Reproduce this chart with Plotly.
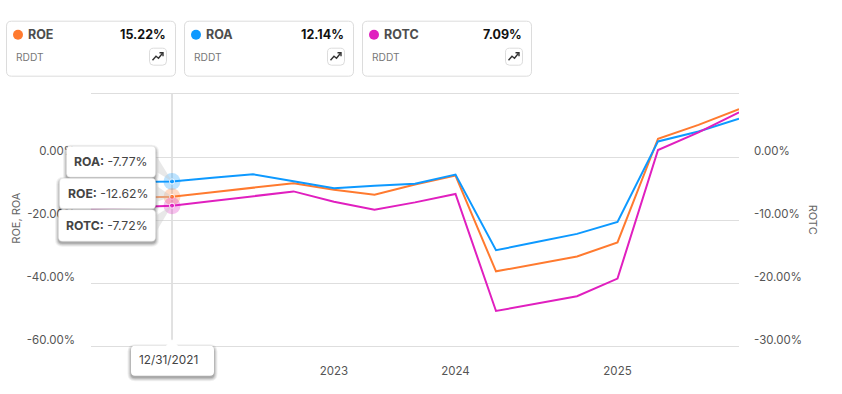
import plotly.graph_objects as go

# ---- data ----
quarters = ["6/30/2021", "9/30/2021", "12/31/2021", "3/31/2022", "6/30/2022", "9/30/2022",
            "12/31/2022", "3/31/2023", "9/30/2023", "12/31/2023", "3/31/2024", "6/30/2024",
            "9/30/2024", "12/31/2024", "3/31/2025", "6/30/2025", "9/30/2025"]
roe = [-13.2, -12.9, -12.62, -11.2, -9.7, -8.3, -10.4, -12.0, -8.7, -5.9,
       -36.3, -34.0, -31.6, -27.1, 5.8, 10.2, 15.22]
roa = [-8.1, -7.9, -7.77, -6.6, -5.5, -7.7, -9.9, -9.1, -8.5, -5.6,
       -29.6, -27.0, -24.4, -20.6, 4.95, 8.1, 12.14]
rotc = [-8.2, -8.0, -7.72, -7.0, -6.2, -5.46, -7.1, -8.37, -7.2, -5.87,
        -24.44, -23.3, -22.1, -19.3, 1.11, 3.9, 7.09]

x_tick_cats = ["12/31/2022", "12/31/2023", "12/31/2024"]
x_tick_text = ["2023", "2024", "2025"]
left_ticks = [-60, -40, -20, 0, 20]
left_text = ["-60.00%", "-40.00%", "-20.00%", "0.00%", ""]
right_ticks = [-30, -20, -10, 0, 10]
right_text = ["-30.00%", "-20.00%", "-10.00%", "0.00%", ""]
hover_date = "12/31/2021"
ticker = "RDDT"

C_ROE, C_ROA, C_ROTC = "#ff7a2f", "#0d99ff", "#e01fbf"
FONT = "Inter, 'Noto Sans', sans-serif"
W, H = 842, 394
L, R, T, B = 91, 739, 94.3, 346.3


def px(x):
    return (x - L) / (R - L)


def py(y):
    return (B - y) / (B - T)


def poly(pts, close=True):
    out = []
    for p in pts:
        vals = []
        for i, v in enumerate(p[1:]):
            vals.append(f"{px(v) if i % 2 == 0 else py(v):.5f}")
        out.append(p[0] + " " + " ".join(vals))
    return " ".join(out) + (" Z" if close else "")


def rr(x0, y0, x1, y1, r):
    """Rounded-rectangle path in paper coords from pixels."""
    pts = [("M", x0 + r, y0), ("L", x1 - r, y0), ("Q", x1, y0, x1, y0 + r), ("L", x1, y1 - r),
           ("Q", x1, y1, x1 - r, y1), ("L", x0 + r, y1), ("Q", x0, y1, x0, y1 - r),
           ("L", x0, y0 + r), ("Q", x0, y0, x0 + r, y0)]
    return poly(pts)


shapes, annos = [], []


def path(d, fill="rgba(0,0,0,0)", line=None, width=1, layer="above"):
    shapes.append(dict(type="path", xref="paper", yref="paper", path=d, fillcolor=fill,
                       line=dict(color=line or "rgba(0,0,0,0)", width=width if line else 0),
                       layer=layer))


def text(x, y, s, size, color, anchor="left", angle=0):
    annos.append(dict(xref="paper", yref="paper", x=px(x), y=py(y), text=s, showarrow=False,
                      xanchor=anchor, yanchor="middle", align=anchor, textangle=angle,
                      font=dict(family=FONT, size=size, color=color), borderpad=0))


# ---- metric cards ----
cards = [("ROE", roe, C_ROE, 6), ("ROA", roa, C_ROA, 184), ("ROTC", rotc, C_ROTC, 362)]
for name, vals, col, x0 in cards:
    x1 = x0 + 169
    path(rr(x0 + .5, 21.5, x1 + .5, 76.5, 5), fill="#fff", line="#dcdcdc", width=1)
    shapes.append(dict(type="circle", xref="paper", yref="paper", x0=px(x0 + 7), x1=px(x0 + 17),
                       y0=py(40), y1=py(30), fillcolor=col, line=dict(width=0)))
    text(x0 + 20.5, 34.5, f"<b>{name}</b>", 12.5, "#4d4d4d")
    text(x1 - 8.5, 34.5, f"<b>{vals[-1]:.2f}%</b>", 12.5, "#111", "right")
    text(x0 + 8.5, 57, ticker, 10.2, "#777")
    bx = x1 - 26
    path(rr(bx + .5, 48.5, bx + 17.5, 65.5, 4), fill="#fff", line="#dcdcdc", width=1)
    path(poly([("M", bx + 3.5, 60.5), ("L", bx + 7, 56.5), ("L", bx + 9.5, 58.5), ("L", bx + 13.5, 53.5)],
              close=False), line="#333", width=1.4)
    path(poly([("M", bx + 10.5, 53), ("L", bx + 14, 53), ("L", bx + 14, 56.5)], close=False),
         line="#333", width=1.4)

# ---- crosshair ----
shapes.append(dict(type="line", xref="x", yref="paper", x0=hover_date, x1=hover_date, y0=0, y1=1,
                   line=dict(color="#c4c4c4", width=1), layer="between"))


def shadow(x0, y0, x1, y1, r):
    for g, a in ((3.5, .06), (2.5, .08), (1.5, .10), (.5, .14)):
        path(rr(x0 - g, y0 - g + 2, x1 + g, y1 + g + 2, r + g), fill=f"rgba(0,0,0,{a})")


# ---- tooltips ----
px_hover = 172
boxes = [("ROA", roa, 66.5, 146.5, 155.5, 177.5, 181.5),
         ("ROE", roe, 59.5, 178.5, 155.5, 209, 196.8),
         ("ROTC", rotc, 58.5, 210, 155.5, 241.5, 205.6)]
for name, vals, x0, y0, x1, y1, pty in boxes:
    shadow(x0, y0, x1, y1, 4)
    path(poly([("M", x1 - 1, (y0 + y1) / 2 - 9), ("L", px_hover, pty), ("L", x1 - 1, (y0 + y1) / 2 + 9)]),
         fill="rgba(205,205,205,0.45)")
    path(rr(x0, y0, x1, y1, 4), fill="#fff", line="#e4e4e4", width=.5)
    text((x0 + x1) / 2, (y0 + y1) / 2, f"<b>{name}:</b> {vals[2]:.2f}%", 12.2, "#444", "center")

# ---- date tooltip ----
shadow(131, 346, 214, 376, 4)
path(poly([("M", 131 + 4, 346), ("L", 166, 346), ("L", 172, 339.5), ("L", 178, 346), ("L", 210, 346),
           ("Q", 214, 346, 214, 350), ("L", 214, 372), ("Q", 214, 376, 210, 376), ("L", 135, 376),
           ("Q", 131, 376, 131, 372), ("L", 131, 350), ("Q", 131, 346, 135, 346)]), fill="#fff")
text(138, 360.5, hover_date, 11.8, "#444")

# ---- axis titles ----
text(16, 219, "ROE, ROA", 11, "#666", "center", -90)
text(813, 220, "ROTC", 11, "#666", "center", 90)

fig = go.Figure()
for name, vals, col, ax in (("ROTC", rotc, C_ROTC, "y2"), ("ROE", roe, C_ROE, "y"), ("ROA", roa, C_ROA, "y")):
    fig.add_trace(go.Scatter(x=quarters, y=vals, mode="lines", name=name, yaxis=ax,
                             line=dict(color=col, width=2), showlegend=False, hoverinfo="skip"))
for name, vals, col, ax in (("ROA", roa, C_ROA, "y"), ("ROE", roe, C_ROE, "y"), ("ROTC", rotc, C_ROTC, "y2")):
    fig.add_trace(go.Scatter(x=[hover_date], y=[vals[2]], mode="markers", yaxis=ax, showlegend=False,
                             hoverinfo="skip", marker=dict(color=col, size=17, opacity=.28, line=dict(width=0))))
    fig.add_trace(go.Scatter(x=[hover_date], y=[vals[2]], mode="markers", yaxis=ax, showlegend=False,
                             hoverinfo="skip", marker=dict(color=col, size=5, line=dict(width=1, color="#fff"))))

tickfont = dict(family=FONT, size=11.5, color="#555")
fig.update_layout(
    width=W, height=H, paper_bgcolor="#fff", plot_bgcolor="#fff", showlegend=False,
    margin=dict(l=L, r=W - R, t=T, b=H - B, pad=0, autoexpand=False),
    font=dict(family=FONT),
    xaxis=dict(type="category", categoryorder="array", categoryarray=quarters, range=[0, 16], automargin=False,
               tickmode="array", tickvals=x_tick_cats, ticktext=x_tick_text, tickfont=tickfont,
               showgrid=False, zeroline=False, showline=True, mirror=True, linecolor="#dedede", linewidth=1,
               ticks="", ticklabelstandoff=14),
    yaxis=dict(range=[-60, 20], tickmode="array", tickvals=left_ticks, ticktext=left_text, automargin=False,
               tickfont=tickfont, gridcolor="#dedede", gridwidth=1, zeroline=False, showline=False,
               ticks="", ticklabelstandoff=15, ticklabelshift=-6),
    yaxis2=dict(range=[-30, 10], overlaying="y", side="right", tickmode="array", tickvals=right_ticks,
                ticktext=right_text, tickfont=tickfont, showgrid=False, zeroline=False, showline=False,
                automargin=False, ticks="", ticklabelstandoff=14, ticklabelshift=-6),
    shapes=shapes, annotations=annos,
)
fig.write_html("out.html", config=dict(displayModeBar=False), post_script="document.body.style.margin='0';")
